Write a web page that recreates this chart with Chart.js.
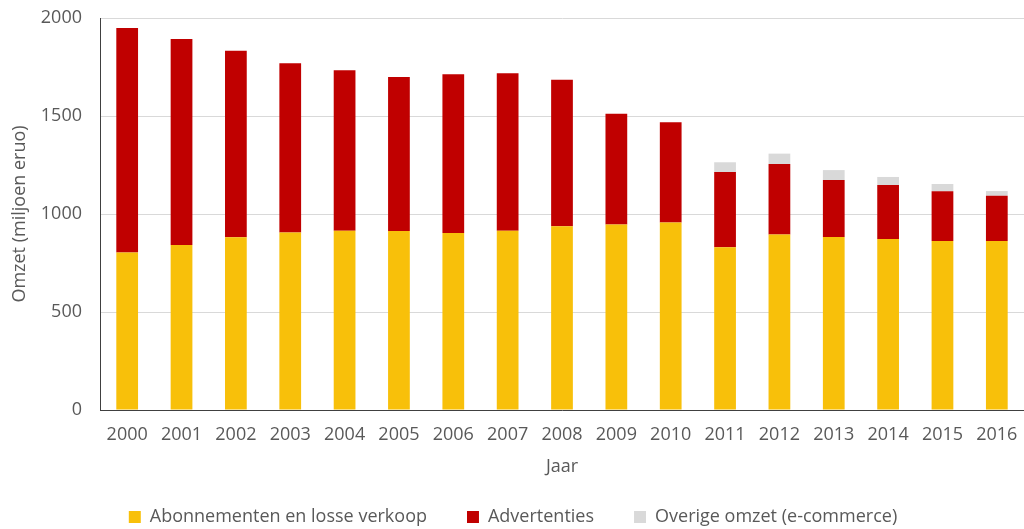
<!DOCTYPE html>
<html>
<head>
<meta charset="utf-8">
<script src="https://cdn.jsdelivr.net/npm/chart.js@4"></script>
<style>
  html,body{margin:0;padding:0;background:#fff;}
  #wrap{width:1024px;height:529px;position:relative;}
</style>
</head>
<body>
<div id="wrap"><canvas id="c"></canvas></div>
<script>
const years = ['2000','2001','2002','2003','2004','2005','2006','2007','2008','2009','2010','2011','2012','2013','2014','2015','2016'];
const abonnementen = [803, 842, 881, 905, 915, 913, 903, 915, 937, 947, 956, 830, 895, 883, 872, 862, 862];
const advertenties = [1146, 1051, 952, 864, 818, 786, 810, 803, 748, 565, 512, 384, 360, 290, 276, 254, 231];
const overige = [null, null, null, null, null, null, null, null, null, null, null, 50, 53, 51, 41, 37, 24];
const yTicks = [0, 500, 1000, 1500, 2000];

Chart.defaults.font.family = '"Open Sans", sans-serif';
Chart.defaults.color = '#595959';

const bar = { barPercentage: 0.4, categoryPercentage: 1, borderWidth: 0 };

// legend keeps wide gaps between items but only takes a slim strip at the bottom
const legendHeight = {
  id: 'legendHeight',
  afterInit(chart) {
    const lg = chart.legend;
    const fit = lg.fit;
    lg.fit = function () { fit.call(this); this.height = 61; };
  }
};

new Chart(document.getElementById('c'), {
  type: 'bar',
  data: {
    labels: years,
    datasets: [
      { label: 'Abonnementen en losse verkoop', data: abonnementen, backgroundColor: '#F8C00A', ...bar },
      { label: 'Advertenties', data: advertenties, backgroundColor: '#C00000', ...bar },
      { label: 'Overige omzet (e-commerce)', data: overige, backgroundColor: '#D9D9D9', ...bar }
    ]
  },
  plugins: [legendHeight],
  options: {
    responsive: true,
    maintainAspectRatio: false,
    animation: false,
    layout: { padding: { top: 18, left: 0, right: -2, bottom: 0 } },
    plugins: {
      tooltip: { enabled: false },
      legend: {
        position: 'bottom',
        labels: { boxWidth: 12, boxHeight: 12, padding: 40, font: { size: 18 }, color: '#595959' }
      }
    },
    scales: {
      x: {
        stacked: true,
        grid: { display: false, drawTicks: false },
        border: { color: '#404040', width: 1 },
        ticks: { font: { size: 18 }, padding: 14, maxRotation: 0, autoSkip: false },
        title: { display: true, text: 'Jaar', font: { size: 18 }, padding: { top: 0, bottom: -10 } },
        afterFit: s => { s.height = 58; s.paddingLeft = 0; s.paddingRight = 0; }
      },
      y: {
        stacked: true,
        min: 0, max: 2000,
        afterBuildTicks: s => { s.ticks = yTicks.map(v => ({ value: v })); },
        grid: { color: '#D9D9D9', drawTicks: false },
        border: { color: '#404040', width: 1 },
        ticks: { font: { size: 18 }, padding: 18, callback: v => String(v) },
        title: { display: true, text: 'Omzet (miljoen eruo)', font: { size: 18 }, padding: { top: 9, bottom: 0 } },
        afterFit: s => { s.width = 100; s.paddingTop = 0; s.paddingBottom = 0; }
      }
    }
  }
});
</script>
</body>
</html>
